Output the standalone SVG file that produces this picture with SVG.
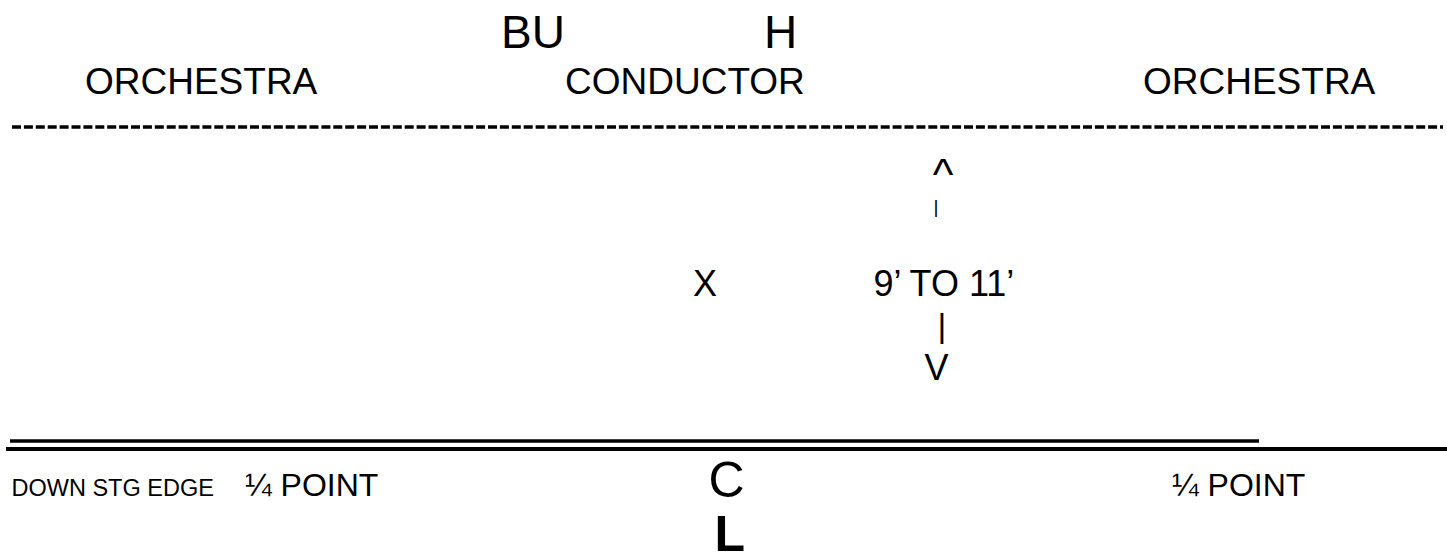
<svg xmlns="http://www.w3.org/2000/svg" width="1447" height="554" viewBox="0 0 1447 554">
<style>
text{font-family:"Liberation Sans",Arial,sans-serif;fill:#000}
.t36{font-size:36px}
.t37{font-size:37px}
.rule{stroke:#000;fill:none}
</style>
<rect width="1447" height="554" fill="#fff"/>
<g id="connectors">
<line id="dash-line" class="rule" x1="12" y1="127" x2="1443" y2="127" stroke-width="3.5" stroke-dasharray="9 2.9"/>
<line id="edge-upper" class="rule" x1="10" y1="441" x2="1259" y2="441" stroke-width="3.6"/>
<line id="edge-lower" class="rule" x1="6" y1="449" x2="1447" y2="449" stroke-width="3.8"/>
</g>
<g id="bu"><text x="501" y="48" style="font-size:46px">BU</text></g>
<g id="h"><text x="764" y="48" style="font-size:46px">H</text></g>
<g id="orchestra-left"><text class="t37" x="85" y="94">ORCHESTRA</text></g>
<g id="conductor"><text class="t37" x="565" y="94">CONDUCTOR</text></g>
<g id="orchestra-right"><text class="t37" x="1143" y="94">ORCHESTRA</text></g>
<g id="x-mark"><text class="t36" x="693" y="296">X</text></g>
<g id="dimension">
<text x="943" y="190" text-anchor="middle" style="font-size:44px">^</text>
<text x="936" y="213" text-anchor="middle" style="font-size:19px">|</text>
<text class="t36" x="873.5" y="296">9’ TO 11’</text>
<text x="942" y="337" text-anchor="middle" style="font-size:34px">|</text>
<text class="t36" x="936.5" y="380" text-anchor="middle">V</text>
</g>
<g id="down-stg-edge"><text x="11.5" y="496" style="font-size:23.5px">DOWN STG EDGE</text></g>
<g id="quarter-left"><text x="245" y="496" style="font-size:32px">¼ POINT</text></g>
<g id="quarter-right"><text x="1172" y="496" style="font-size:32px">¼ POINT</text></g>
<g id="centerline">
<text x="708.5" y="497" style="font-size:50px">C</text>
<text x="714.5" y="551" style="font-size:50px;font-weight:bold">L</text>
</g>
</svg>
